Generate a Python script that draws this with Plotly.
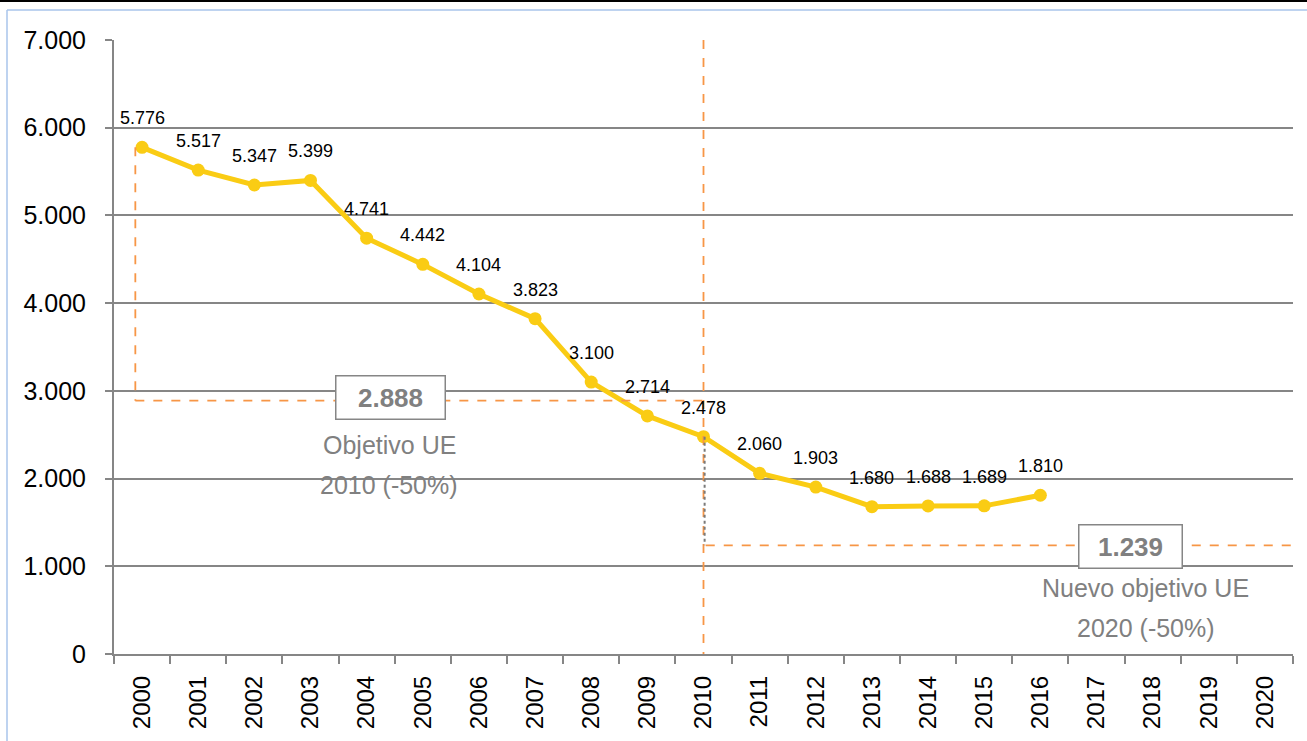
import plotly.graph_objects as go

years = [str(y) for y in range(2000, 2021)]
data_years = [str(y) for y in range(2000, 2017)]
values = [5776, 5517, 5347, 5399, 4741, 4442, 4104, 3823, 3100, 2714, 2478,
          2060, 1903, 1680, 1688, 1689, 1810]
y_ticks = [0, 1000, 2000, 3000, 4000, 5000, 6000, 7000]
target_2010_text = ["Objetivo UE", "2010 (-50%)"]
target_2020_text = ["Nuevo objetivo UE", "2020 (-50%)"]

W, H = 1307, 741
L, R, T, B = 114, 14, 40, 87
pw, ph = W - L - R, H - T - B

def fmt(v):
    return f"{v:,}".replace(",", ".")

YELLOW = "#FACC14"
ORANGE = "#F79646"
GRAY = "#868686"
TXT_GRAY = "#808080"
FONT = "Liberation Sans, Arial"

idx = {y: i for i, y in enumerate(years)}
t2010 = values[0] / 2
base2010 = values[data_years.index("2010")]
t2020 = base2010 / 2
i2000 = idx["2000"]
i2010 = idx["2010"]

fig = go.Figure()
fig.add_trace(go.Scatter(
    x=[idx[y] for y in data_years], y=values, mode="lines+markers",
    line=dict(color=YELLOW, width=5), marker=dict(color=YELLOW, size=13),
    hoverinfo="skip", showlegend=False))

shapes = []
dash = dict(color=ORANGE, width=1.8, dash="dash")
shapes.append(dict(type="line", xref="x", yref="y", x0=i2000 - 0.12, x1=i2000 - 0.12,
                   y0=values[0], y1=t2010, line=dash))
shapes.append(dict(type="line", xref="x", yref="y", x0=i2000 - 0.12, x1=i2010 + 0.03,
                   y0=t2010, y1=t2010, line=dash))
shapes.append(dict(type="line", xref="x", yref="y", x0=i2010, x1=i2010,
                   y0=7000, y1=-130, line=dash))
shapes.append(dict(type="line", xref="x", yref="y", x0=i2010 + 0.02, x1=i2010 + 0.02,
                   y0=base2010, y1=t2020, line=dict(color="#7A7A7A", width=2, dash="dot")))
shapes.append(dict(type="line", xref="x", yref="y", x0=i2010 + 0.04, x1=20.5,
                   y0=t2020, y1=t2020, line=dash))

def px(xp): return (xp - L) / pw
def py(yp): return (H - B - yp) / ph
shapes.append(dict(type="line", xref="paper", yref="paper", x0=px(0), x1=px(W),
                   y0=py(1), y1=py(1), line=dict(color="#000000", width=2)))
shapes.append(dict(type="line", xref="paper", yref="paper", x0=px(7), x1=px(W),
                   y0=py(10), y1=py(10), line=dict(color="#A9C4EB", width=1.5)))
shapes.append(dict(type="line", xref="paper", yref="paper", x0=px(7), x1=px(7),
                   y0=py(10), y1=py(H), line=dict(color="#A9C4EB", width=1.5)))

annotations = []
for y, v in zip(data_years, values):
    annotations.append(dict(x=idx[y], y=v, text=fmt(v), showarrow=False, yshift=29,
                            font=dict(size=18, color="#000000", family=FONT)))

box_font = dict(size=26, color=TXT_GRAY, family=FONT)
annotations.append(dict(x=4.42, y=t2010, text=f"<b>{fmt(int(t2010))}</b>", showarrow=False,
                        font=box_font, bgcolor="white", bordercolor=GRAY, borderwidth=1.5,
                        width=106, height=40, yshift=3))
annotations.append(dict(x=17.6, y=t2020, text=f"<b>{fmt(int(t2020))}</b>", showarrow=False,
                        font=box_font, bgcolor="white", bordercolor=GRAY, borderwidth=1.5,
                        width=100, height=40, yshift=-1))
lab_font = dict(size=25, color=TXT_GRAY, family=FONT)
for k, t in enumerate(target_2010_text):
    annotations.append(dict(x=4.4, y=[2383, 1927][k], text=t, showarrow=False, font=lab_font))
for k, t in enumerate(target_2020_text):
    annotations.append(dict(x=17.88, y=[752, 296][k], text=t, showarrow=False, font=lab_font))

fig.update_layout(
    width=W, height=H, margin=dict(l=L, r=R, t=T, b=B),
    paper_bgcolor="white", plot_bgcolor="white",
    font=dict(family=FONT, color="#000000"),
    separators=",.",
    shapes=shapes, annotations=annotations,
    xaxis=dict(range=[-0.5, 20.5], tickmode="array",
               tickvals=list(range(len(years))), ticktext=years,
               tickangle=-90, tickfont=dict(size=24, color="#000000"),
               showgrid=False, zeroline=False, showline=False,
               ticks="", ticklabelstandoff=16),
    yaxis=dict(range=[0, 7000], tickvals=y_ticks, tickformat=",.0f",
               tickfont=dict(size=25, color="#000000"),
               showgrid=True, gridcolor=GRAY, gridwidth=2,
               zeroline=False, showline=True, linecolor=GRAY, linewidth=2,
               ticks="outside", ticklen=7, tickcolor=GRAY, tickwidth=2,
               ticklabelstandoff=14),
)
fig.update_layout(xaxis2=dict(overlaying="x", range=[-0.5, 20.5],
                              tickvals=[i - 0.5 for i in range(len(years) + 1)],
                              showticklabels=False, ticks="outside", ticklen=8, tickcolor=GRAY,
                              tickwidth=2, showgrid=False, zeroline=False, side="bottom",
                              showline=True, linecolor=GRAY, linewidth=2))
fig.add_trace(go.Scatter(x=[0], y=[0], xaxis="x2", mode="markers", marker=dict(opacity=0),
                         hoverinfo="skip", showlegend=False))
fig.write_html("out.html", config={"displayModeBar": False},
               post_script="document.body.style.margin='0';")
